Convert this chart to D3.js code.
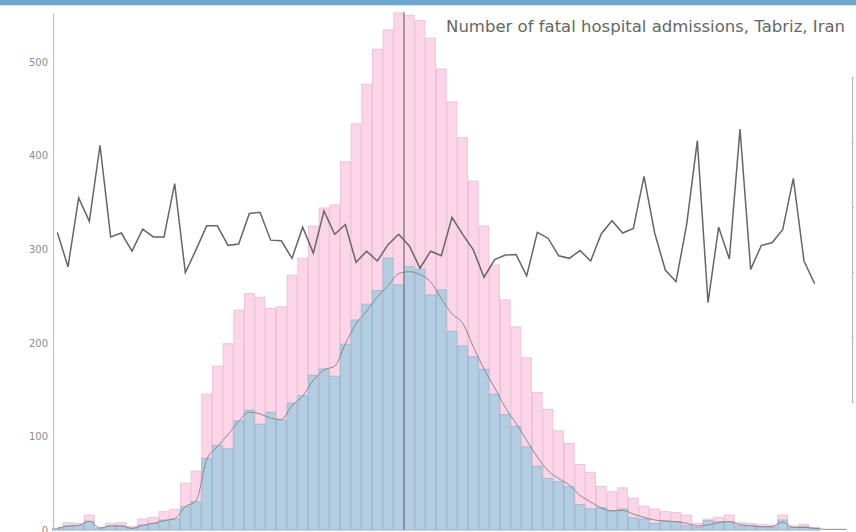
<!DOCTYPE html>
<html>
<head>
<meta charset="utf-8">
<script src="https://cdn.jsdelivr.net/npm/d3@7"></script>
<style>
  html, body { margin: 0; padding: 0; background: #fff; overflow: hidden; }
  svg { display: block; }
</style>
</head>
<body>
<svg id="chart" width="856" height="532"></svg>
<script>
// ---- data ----
const title = "Number of fatal hospital admissions, Tabriz, Iran";

const weeks = [1,2,3,4,5,6,7,8,9,10,11,12,13,14,15,16,17,18,19,20,21,22,23,24,25,
  26,27,28,29,30,31,32,33,34,35,36,37,38,39,40,41,42,43,44,45,46,47,48,49,50,
  51,52,53,54,55,56,57,58,59,60,61,62,63,64,65,66,67,68,69,70,71,72,73,74,75];

const totalAdmissions = [2,7.8,7.1,16,2.8,7.1,7.8,3.6,11.7,13.5,19.6,22.1,50,63,145.2,175,199,235,252.5,248.6,
  236.7,238.5,272.3,290.3,324.8,344,347.3,393.4,433.8,476.2,513.6,534.3,552.4,549.9,544.4,525.5,492.5,457.4,419.2,372.8,
  324.8,283.1,245.7,217,184,146.9,128.8,105.9,92.5,70,61.6,46.4,40.8,45,34,25.5,22.4,19.6,18.5,16,
  7.1,11.7,13.5,16,7.8,7.1,6.1,5.3,16,4.3,6.1,2.8,0,0,0];

const fatalAdmissions = [1.5,4.3,4.6,9.3,1.4,4.3,4.3,1.8,5.3,7.1,10.7,11.7,24.9,30.3,76.4,90.4,86.8,116.5,127.9,113,
  125.8,117.5,135.5,143.6,165.3,172,164.3,198.6,224.3,241.3,255.9,290.4,262.1,281.3,278.7,251.2,256.6,212.3,196.7,185.1,
  171.7,145.1,123.4,110.7,88.9,68.2,55.1,51.5,46.4,27.1,22.8,24,20,22.4,13,11.7,7.1,9.6,8.9,4.6,
  2.8,10,8.9,8.9,4.3,4.6,2.8,2.8,10.7,2.8,3.6,1.8,0,0,0];

const fatalSmoothed = [1.8,4.3,5,9.3,2.1,4.3,4.3,1.8,5,7.1,10,12.1,24.9,31,75,89,102,116,126,124,
  119.5,118,133,143,160,171,175,199,220,234,249,261,274,276,273,265,247,231,221,196,
  172,152,131,114,96,78,63.5,55,48,37,30,23.5,20.5,21,17,13.5,10.7,9.6,8.9,7.1,
  4.3,5.3,7.8,8.9,5.7,4.6,3.6,3.6,8.5,2.8,2.8,1.8,0.7,0.7,0.7];

// fatality ratio (right axis), weeks 1..72
const fatalityRatio = [4.61,4.08,5.14,4.78,5.95,4.54,4.60,4.32,4.66,4.54,4.54,5.36,3.99,4.34,4.71,4.71,4.41,4.43,4.90,4.92,
  4.49,4.48,4.21,4.69,4.29,4.94,4.58,4.73,4.15,4.32,4.17,4.42,4.58,4.40,4.06,4.32,4.25,4.84,4.58,4.34,
  3.92,4.19,4.26,4.27,3.94,4.61,4.52,4.25,4.21,4.33,4.17,4.59,4.79,4.60,4.67,5.47,4.60,4.03,3.85,4.73,
  6.02,3.53,4.69,4.20,6.20,4.04,4.41,4.45,4.65,5.44,4.17,3.82];

const leftTicks = [0,100,200,300,400,500];
const rightTicks = [2,3,4,5,6,7];
const markerWeek = 33; // vertical marker placed after this week's bar

// ---- drawing ----
const svg = d3.select("#chart");
const W = 856, H = 532;

// top band
svg.append("rect").attr("x",0).attr("y",0).attr("width",W).attr("height",5).attr("fill","#6ea5cd");
svg.append("rect").attr("x",0).attr("y",5).attr("width",W).attr("height",1).attr("fill","#d3e5f1");

const x = d3.scaleBand().domain(weeks).range([52, 852]).padding(0);
const y = d3.scaleLinear().domain([0, d3.max(totalAdmissions)]).range([530, 13]);
const y2 = d3.scaleLinear().domain([2, 7]).range([402, 77]);

// pink bars (total)
svg.append("g").selectAll("rect").data(weeks).join("rect")
  .attr("x", d => x(d) + 0.5)
  .attr("y", (d,i) => y(totalAdmissions[i]))
  .attr("width", x.bandwidth() - 1)
  .attr("height", (d,i) => y(0) - y(totalAdmissions[i]))
  .attr("fill", "#fcd6e8")
  .attr("stroke", "#ecc3d7")
  .attr("stroke-width", 1);

// blue bars (fatal)
svg.append("g").selectAll("rect").data(weeks).join("rect")
  .attr("x", d => x(d) + 0.5)
  .attr("y", (d,i) => y(fatalAdmissions[i]))
  .attr("width", x.bandwidth() - 1)
  .attr("height", (d,i) => y(0) - y(fatalAdmissions[i]))
  .attr("fill", "#b3cde2")
  .attr("stroke", "#a3bbd0")
  .attr("stroke-width", 1);

// smoothed line
svg.append("path")
  .datum(fatalSmoothed)
  .attr("fill", "none")
  .attr("stroke", "#8a8a8a")
  .attr("stroke-width", 1)
  .attr("d", d3.line().x((d,i) => x(weeks[i]) + x.bandwidth()/2).y(d => y(d)).curve(d3.curveMonotoneX));

// vertical marker
const mx = x(markerWeek) + x.bandwidth();
svg.append("line").attr("x1", mx).attr("x2", mx).attr("y1", 12).attr("y2", 530)
  .attr("stroke", "#7a7a7a").attr("stroke-width", 1.2);

// ratio line
svg.append("path")
  .datum(fatalityRatio)
  .attr("fill", "none")
  .attr("stroke", "#666")
  .attr("stroke-width", 1.5)
  .attr("stroke-linejoin", "miter")
  .attr("d", d3.line().x((d,i) => x(weeks[i]) + x.bandwidth()/2).y(d => y2(d)));

// left axis
const gl = svg.append("g").attr("transform", "translate(53,0)")
  .call(d3.axisLeft(y).tickValues(leftTicks).tickSize(0).tickPadding(5));
gl.select(".domain").attr("stroke", "#c4c4c4").attr("stroke-width", 1.2);
gl.selectAll("text").attr("fill", "#8c8c8c").style("font-family", "DejaVu Sans, sans-serif").style("font-size", "10px");

// right axis
const gr = svg.append("g").attr("transform", "translate(852,0)")
  .call(d3.axisRight(y2).tickValues(rightTicks).tickSize(2).tickPadding(2).tickSizeOuter(0));
gr.select(".domain").attr("stroke", "#b8b8b8").attr("stroke-width", 1.2);
gr.selectAll("line").attr("stroke", "#b8b8b8");
gr.selectAll("text").attr("fill", "#8c8c8c").style("font-family", "DejaVu Sans, sans-serif").style("font-size", "10px");

// title
svg.append("text")
  .attr("x", 845).attr("y", 32)
  .attr("text-anchor", "end")
  .attr("fill", "#666")
  .style("font-family", "DejaVu Sans, sans-serif")
  .style("font-size", "16.5px")
  .text(title);
</script>
</body>
</html>
